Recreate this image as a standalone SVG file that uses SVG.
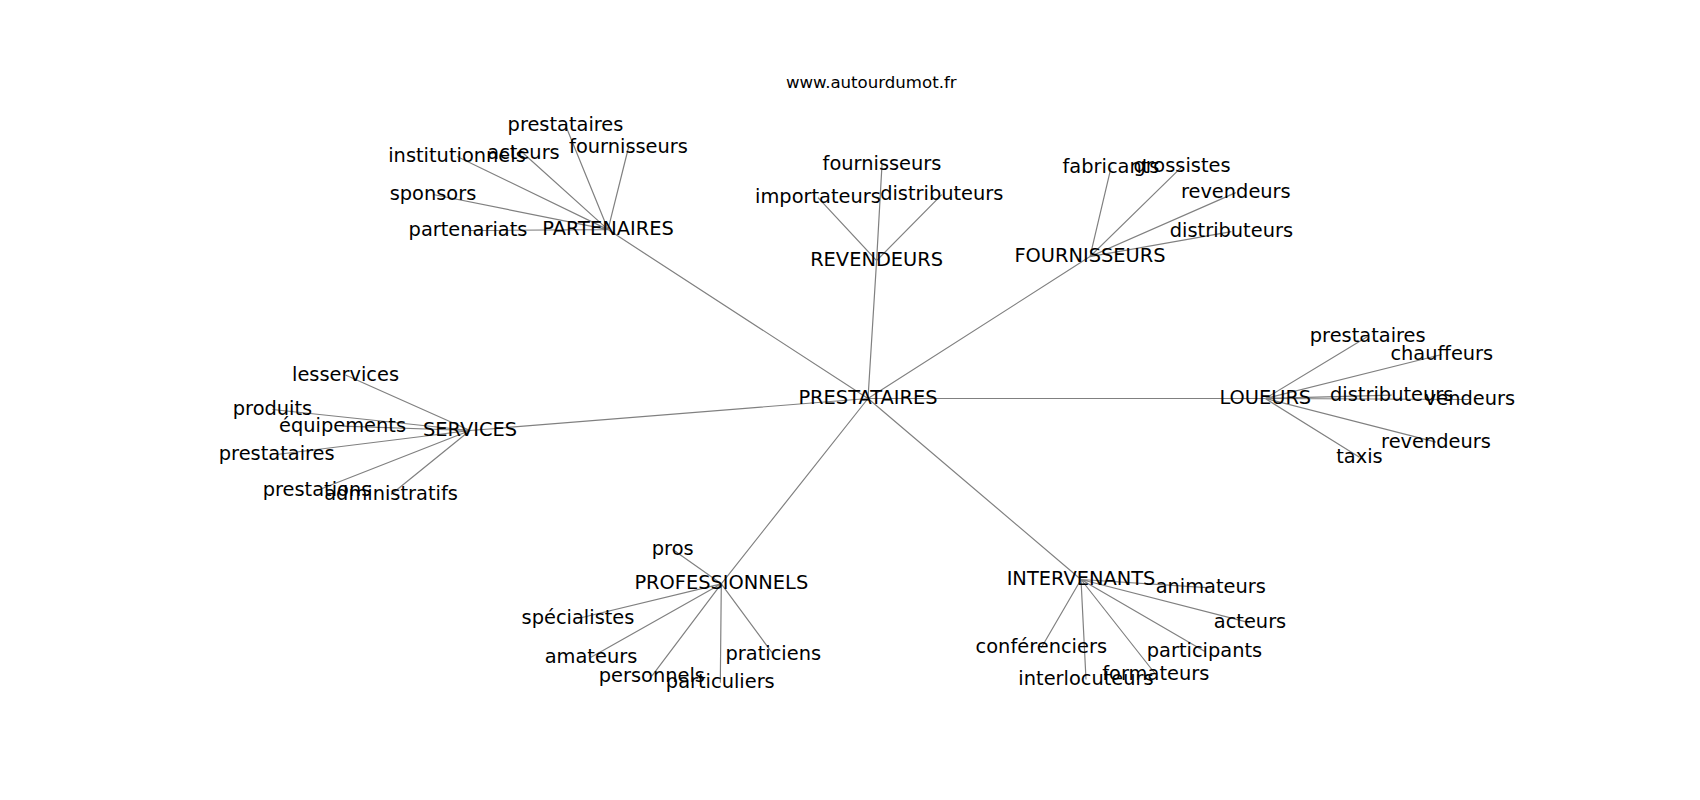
<svg xmlns="http://www.w3.org/2000/svg" width="1700" height="800" viewBox="0 0 1700 800">
<style>
.e{stroke:#808080;stroke-width:1.2;fill:none}
text{font-family:"DejaVu Sans",sans-serif;fill:#000}
.n{font-size:19.4px;text-anchor:middle}
.t{font-size:16.6px;text-anchor:middle}
</style>
<rect width="1700" height="800" fill="#fff"/>
<g id="edges" class="e">
<path d="M868 398.5L608 229.6M868 398.5L876.6 260.6M868 398.5L1090 256.6M868 398.5L1265.3 398.5M868 398.5L1081 579.5M868 398.5L721.3 583.8M868 398.5L470 430.5"/>
<path d="M608 229.6L565.5 125.2M608 229.6L628.5 147.5M608 229.6L457 156.5M608 229.6L523.5 153.5M608 229.6L433 194.5M608 229.6L468 230.5"/>
<path d="M876.6 260.6L882 164.6M876.6 260.6L818 197.6M876.6 260.6L941.8 194.6"/>
<path d="M1090 256.6L1111 167.6M1090 256.6L1182 166.6M1090 256.6L1235.8 192.6M1090 256.6L1231.4 231.6"/>
<path d="M1265.3 398.5L1367.7 336.5M1265.3 398.5L1441.8 354.5M1265.3 398.5L1391.7 395.2M1265.3 398.5L1470 399.5M1265.3 398.5L1436 442.2M1265.3 398.5L1359.5 457.2"/>
<path d="M470 430.5L345.5 375M470 430.5L272.5 409.5M470 430.5L342.5 426.2M470 430.5L276.7 454.5M470 430.5L317 490.5M470 430.5L391 494.5"/>
<path d="M721.3 583.8L672.7 549.5M721.3 583.8L578 618.5M721.3 583.8L591 657.2M721.3 583.8L651.8 676.2M721.3 583.8L720.3 682.8M721.3 583.8L773.3 654.5"/>
<path d="M1081 579.5L1210.8 587.8M1081 579.5L1250 622.8M1081 579.5L1041.3 647.8M1081 579.5L1204.5 651.2M1081 579.5L1086 679.5M1081 579.5L1155.8 674.5"/>
</g>
<text class="t" x="871.3" y="88.3">www.autourdumot.fr</text>
<g id="n-prestataires"><text class="n" x="868" y="404">PRESTATAIRES</text></g>
<g id="n-partenaires"><text class="n" x="608" y="235">PARTENAIRES</text>
<text class="n" x="565.5" y="130.7">prestataires</text>
<text class="n" x="628.5" y="153">fournisseurs</text>
<text class="n" x="457" y="162">institutionnels</text>
<text class="n" x="523.5" y="159">acteurs</text>
<text class="n" x="433" y="200">sponsors</text>
<text class="n" x="468" y="236">partenariats</text></g>
<g id="n-revendeurs"><text class="n" x="876.6" y="266">REVENDEURS</text>
<text class="n" x="882" y="170">fournisseurs</text>
<text class="n" x="818" y="203">importateurs</text>
<text class="n" x="941.8" y="200">distributeurs</text></g>
<g id="n-fournisseurs"><text class="n" x="1090" y="262">FOURNISSEURS</text>
<text class="n" x="1111" y="173">fabricants</text>
<text class="n" x="1182" y="172">grossistes</text>
<text class="n" x="1235.8" y="198">revendeurs</text>
<text class="n" x="1231.4" y="237">distributeurs</text></g>
<g id="n-loueurs"><text class="n" x="1265.3" y="404">LOUEURS</text>
<text class="n" x="1367.7" y="342">prestataires</text>
<text class="n" x="1441.8" y="360">chauffeurs</text>
<text class="n" x="1391.7" y="400.7">distributeurs</text>
<text class="n" x="1470" y="405">vendeurs</text>
<text class="n" x="1436" y="447.7">revendeurs</text>
<text class="n" x="1359.5" y="462.7">taxis</text></g>
<g id="n-services"><text class="n" x="470" y="436">SERVICES</text>
<text class="n" x="345.5" y="380.5">lesservices</text>
<text class="n" x="272.5" y="415">produits</text>
<text class="n" x="342.5" y="431.7">équipements</text>
<text class="n" x="276.7" y="460">prestataires</text>
<text class="n" x="317" y="496">prestations</text>
<text class="n" x="391" y="500">administratifs</text></g>
<g id="n-professionnels"><text class="n" x="721.3" y="589.3">PROFESSIONNELS</text>
<text class="n" x="672.7" y="555">pros</text>
<text class="n" x="578" y="624">spécialistes</text>
<text class="n" x="591" y="662.7">amateurs</text>
<text class="n" x="651.8" y="681.7">personnels</text>
<text class="n" x="720.3" y="688.3">particuliers</text>
<text class="n" x="773.3" y="660">praticiens</text></g>
<g id="n-intervenants"><text class="n" x="1081" y="585">INTERVENANTS</text>
<text class="n" x="1210.8" y="593.3">animateurs</text>
<text class="n" x="1250" y="628.3">acteurs</text>
<text class="n" x="1041.3" y="653.3">conférenciers</text>
<text class="n" x="1204.5" y="656.7">participants</text>
<text class="n" x="1086" y="685">interlocuteurs</text>
<text class="n" x="1155.8" y="680">formateurs</text></g>
</svg>
